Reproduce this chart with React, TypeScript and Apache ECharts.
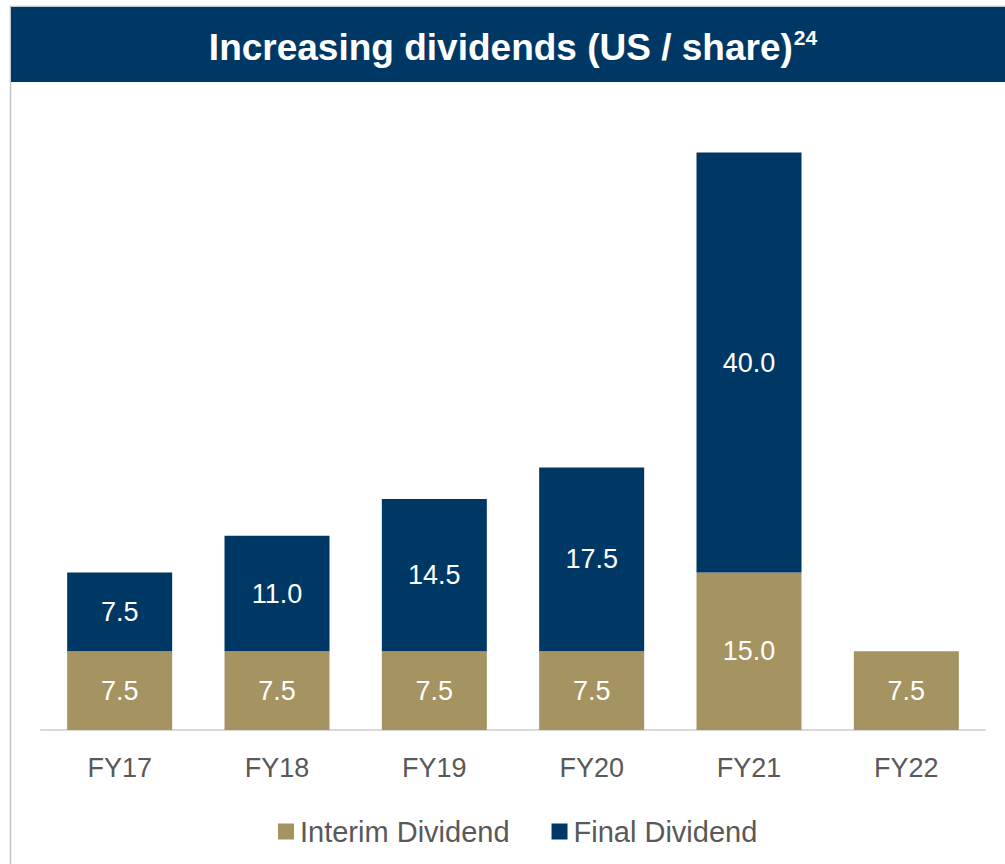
import React, { useEffect, useRef } from "react";
import * as echarts from "echarts";

const categories = ["FY17", "FY18", "FY19", "FY20", "FY21", "FY22"];
const interimDividend = [7.5, 7.5, 7.5, 7.5, 15.0, 7.5];
const finalDividend: (number | null)[] = [7.5, 11.0, 14.5, 17.5, 40.0, null];

const NAVY = "#003865";
const GOLD = "#A59461";
const FONT = "Arial, 'Liberation Sans', sans-serif";

export default function App() {
  const ref = useRef<HTMLDivElement>(null);
  useEffect(() => {
    if (!ref.current) return;
    const chart = echarts.init(ref.current, null, { renderer: "svg" });
    const label = {
      show: true,
      position: "inside" as const,
      color: "#ffffff",
      fontSize: 27,
      fontFamily: FONT,
      formatter: (p: any) => (p.value == null ? "" : Number(p.value).toFixed(1)),
    };
    chart.setOption({
      animation: false,
      backgroundColor: "#ffffff",
      graphic: [
        {
          type: "rect",
          shape: { x: 10.5, y: 6.5, width: 1010, height: 880 },
          style: { fill: "none", stroke: "#c4c4c4", lineWidth: 1.5 },
          silent: true,
        },
        {
          type: "rect",
          shape: { x: 11, y: 7, width: 994, height: 75 },
          style: { fill: NAVY },
          silent: true,
        },
        {
          type: "text",
          x: 513,
          y: 47,
          style: {
            text: "{a|Increasing dividends (US / share)}{b|24}",
            align: "center",
            verticalAlign: "middle",
            fill: "#ffffff",
            rich: {
              a: { fontSize: 37, fontWeight: "bold", fontFamily: FONT, fill: "#ffffff", lineHeight: 40 },
              b: { fontSize: 21, fontWeight: "bold", fontFamily: FONT, fill: "#ffffff", verticalAlign: "top", lineHeight: 40, padding: [0, 0, 16, 1] },
            },
          },
          silent: true,
        },
      ],
      legend: {
        top: 812,
        left: 273,
        itemWidth: 16,
        itemHeight: 16,
        itemGap: 42,
        icon: "rect",
        textStyle: { fontSize: 29, color: "#595959", fontFamily: FONT, padding: [0, 0, 0, 1] },
        data: ["Interim Dividend", "Final Dividend"],
      },
      grid: { left: 41, right: 20, top: 100, bottom: 134 },
      xAxis: {
        type: "category",
        data: categories,
        axisLine: { lineStyle: { color: "#d9d9d9", width: 2 } },
        axisTick: { show: false },
        axisLabel: { fontSize: 27, color: "#595959", fontFamily: FONT, margin: 24 },
      },
      yAxis: {
        type: "value",
        min: 0,
        max: 60,
        show: false,
        splitLine: { show: false },
      },
      series: [
        {
          name: "Interim Dividend",
          type: "bar",
          stack: "div",
          barWidth: 105,
          itemStyle: { color: GOLD },
          label,
          data: interimDividend,
        },
        {
          name: "Final Dividend",
          type: "bar",
          stack: "div",
          barWidth: 105,
          itemStyle: { color: NAVY },
          label,
          data: finalDividend,
        },
      ],
    });
    return () => chart.dispose();
  }, []);
  return (
    <div
      ref={ref}
      style={{ position: "fixed", left: 0, top: 0, width: 1005, height: 864 }}
    />
  );
}
